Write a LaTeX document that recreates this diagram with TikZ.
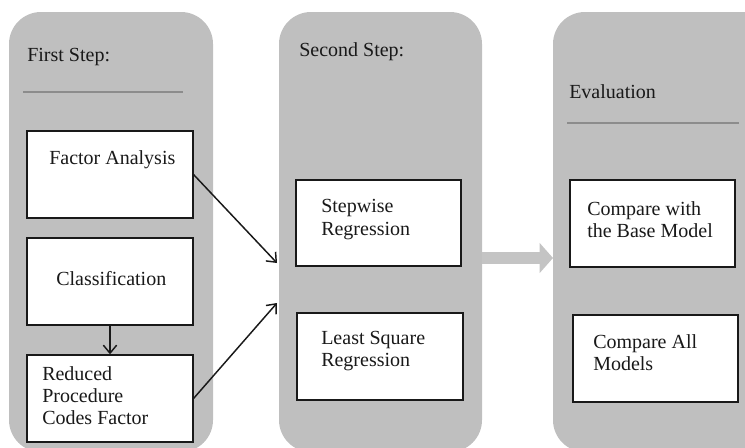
\documentclass[tikz,border=0pt]{standalone}
\usepackage{fontspec}
\setmainfont{Liberation Serif}
\usetikzlibrary{arrows.meta}
\definecolor{panelgray}{RGB}{191,191,191}
\definecolor{arrowgray}{RGB}{196,196,196}
\definecolor{rulegray}{RGB}{140,140,140}
\definecolor{inkgray}{RGB}{25,25,25}

\begin{document}
\begin{tikzpicture}[x=0.75pt,y=-0.75pt,
  panel/.style={fill=panelgray,rounded corners=24pt},
  box/.style={draw=inkgray,fill=white,line width=1.3pt,minimum width=124pt,minimum height=65pt,inner sep=0pt},
  txt/.style={anchor=west,inner sep=0pt,align=left,text=inkgray,font=\fontsize{15}{16.6}\selectfont},
  link/.style={draw=inkgray,line width=1.1pt,-{Straight Barb[length=6pt,width=10pt]}}]

\useasboundingbox (0,0) rectangle (745,447);
\clip (0,0) rectangle (745,447);

%panels
\fill[panel] (9,12) rectangle (213,452);
\fill[panel] (279,12) rectangle (482,452);
\fill[panel] (553,12) rectangle (790,452);

%titles of panels
\node[txt] (t1) at (27,57) {First Step:};
\node[txt] (t2) at (299,52) {Second Step:};
\node[txt] (t3) at (569,92) {Evaluation};

%rules under titles
\draw[rulegray,line width=1.1pt] (23,92) -- (183,92);
\draw[rulegray,line width=1.1pt] (567,123) -- (739,123);

%boxes of first step
\node[box] (fa) at (110,174.5) {};
\node[box] (cl) at (110,281.5) {};
\node[box] (rp) at (110,398.5) {};

%boxes of second step
\node[box] (sw) at (378.5,223) {};
\node[box] (ls) at (380,356.5) {};

%boxes of evaluation
\node[box] (cb) at (652.5,223.5) {};
\node[box] (ca) at (655.5,358.5) {};

%names in boxes
\node[txt] (fat) at (49,160) {Factor Analysis};
\node[txt] (clt) at (56,279) {Classification};
\node[txt] (rpt) at (42,395.5) {Reduced\\Procedure\\Codes Factor};
\node[txt] (swt) at (321,219.5) {Stepwise\\Regression};
\node[txt] (lst) at (321,351) {Least Square\\Regression};
\node[txt] (cbt) at (587,219.5) {Compare with\\the Base Model};
\node[txt] (cat) at (593,353) {Compare All\\Models};

%arrows
\coordinate (in1) at (277,263);
\coordinate (in2) at (277,303);
\draw[link] (fa.east) -- (in1);
\draw[link] (rp.east) -- (in2);
\draw[link] (cl.south) -- (rp.north);

%gray arrow between panels
\coordinate (g1) at (482,258);
\coordinate (g2) at (553,258);
\draw[arrowgray,line width=9pt,-{Triangle[length=10pt,width=22pt]}] (g1) -- (g2);

\end{tikzpicture}
\end{document}
